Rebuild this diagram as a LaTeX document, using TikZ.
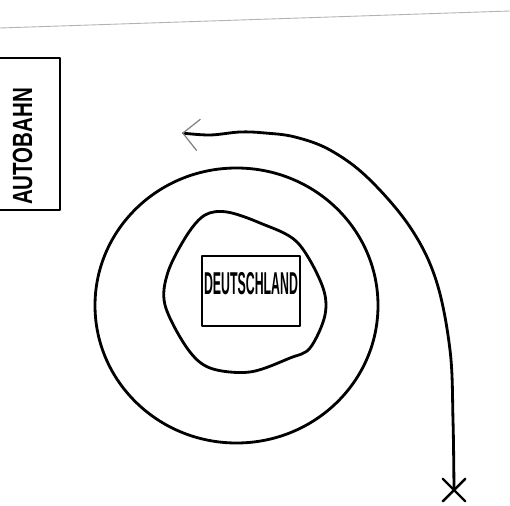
\documentclass[tikz,border=0pt]{standalone}
\usepackage{fontspec}
\newfontfamily\landfont[FakeStretch=0.39]{Liberation Sans Bold}
\newfontfamily\bahnfont[FakeStretch=0.74]{Liberation Sans Bold}
\usetikzlibrary{arrows.meta,shapes.misc}

\begin{document}
\begin{tikzpicture}[x=0.02cm,y=-0.02cm,line width=1.6pt,line join=round,line cap=round]
\useasboundingbox (0,0) rectangle (510,506);
\clip (0,0) rectangle (510,506);
% paper edge
\draw[gray!60,line width=0.5pt] (0,28) -- (510,11);
% Autobahn sign
\node[draw,rotate=90,inner xsep=0.1cm,inner ysep=0pt,text width=2.84cm,align=left,
  minimum height=1.5cm,font=\bahnfont\fontsize{15.8}{16}\selectfont] (autobahn) at (22.5,134) {AUTOBAHN};
% rings
\draw (236.5,305.5) ellipse [x radius=141.5,y radius=137.5];
\draw plot[smooth cycle,tension=0.55] coordinates {(205,215) (227,212) (260,223) (297,242)
  (322,285) (325,315) (310,348) (290,358) (250,372) (210,368) (187,348) (165,305)
  (168,272) (187,235)};
% Deutschland sign
\node[draw,inner sep=0pt,minimum width=1.96cm,minimum height=1.4cm,text depth=9pt,
  font=\landfont\fontsize{18}{18}\selectfont] (deutschland) at (251,291) {DEUTSCHLAND};
% route
\node[cross out,draw,inner sep=0pt,minimum size=0.4cm,line width=1.4pt] (start) at (454,490) {};
\coordinate (tip) at (182,133);
\draw[-{Straight Barb[length=9pt,width=18pt,color=gray,line width=0.7pt]}]
  plot[smooth,tension=0.6] coordinates {(start.center) (453,420) (450,350) (436,280) (410,227)
  (368,178) (330,150) (295,137) (265,133) (240,132) (210,135) (tip)};
\end{tikzpicture}
\end{document}
